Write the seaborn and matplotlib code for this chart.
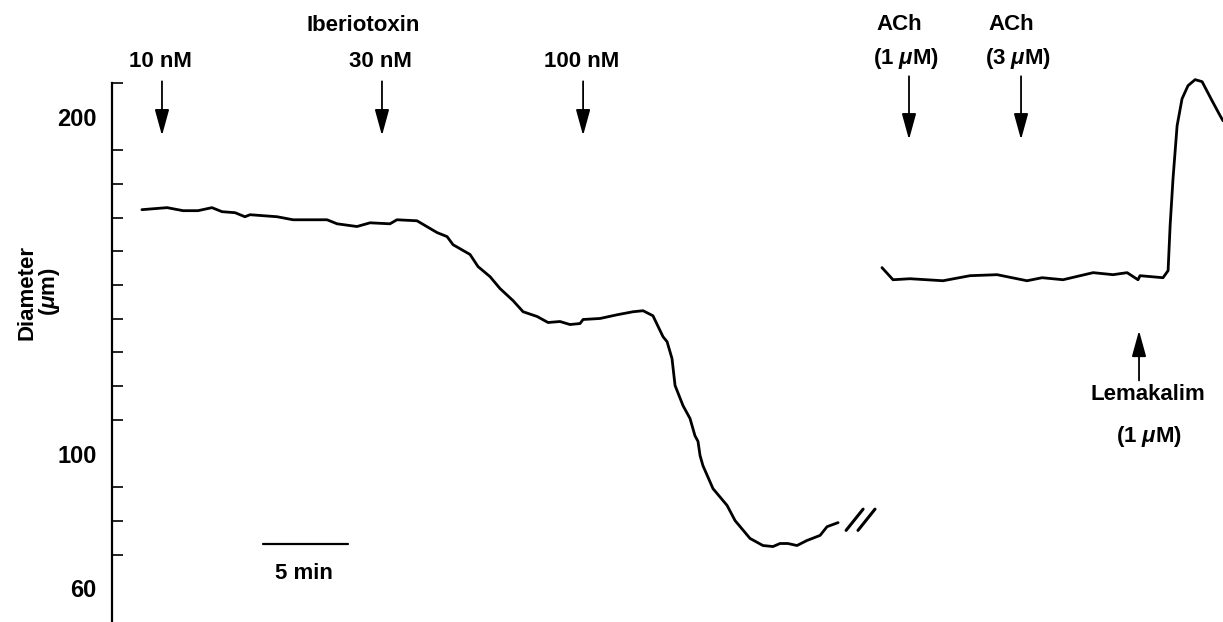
import matplotlib
matplotlib.use("Agg")
import matplotlib.pyplot as plt
import seaborn as sns

# Trace before the break (time in min, diameter in um)
time_a = [1.76, 3.24, 4.18, 5.06, 5.88, 6.47, 7.24, 7.82, 8.12, 9.71, 10.65, 12.65,
          13.24, 14.41, 15.18, 16.35, 16.76, 17.94, 19.12, 19.71, 20.06, 21.06, 21.53,
          22.24, 22.82, 23.59, 24.18, 25.00, 25.65, 26.35, 26.94, 27.53, 27.71, 28.71,
          29.71, 30.65, 31.24, 31.82, 32.41, 32.65, 32.94, 33.12, 33.59, 34.00, 34.29,
          34.47, 34.59, 34.76, 35.35, 36.18, 36.65, 37.53, 38.29, 38.88, 39.29, 39.76,
          40.29, 40.88, 41.65, 42.06, 42.71]
diam_a = [172.4, 173.0, 172.1, 172.1, 173.0, 171.8, 171.5, 170.3, 170.9, 170.3, 169.4, 169.4,
          168.2, 167.4, 168.5, 168.2, 169.4, 169.1, 165.6, 164.4, 162.0, 159.1, 155.5,
          152.5, 149.0, 145.4, 142.1, 140.7, 138.9, 139.2, 138.3, 138.6, 139.8, 140.1,
          141.2, 142.1, 142.4, 140.9, 134.7, 133.2, 128.2, 120.2, 114.2, 110.4, 105.3,
          103.6, 99.4, 96.4, 89.6, 84.6, 80.1, 74.8, 72.7, 72.4, 73.3, 73.3,
          72.7, 74.2, 75.7, 78.3, 79.5]

# Trace after the break
time_b = [45.29, 45.94, 46.94, 48.88, 50.47, 52.06, 53.82, 54.71, 55.94, 57.71, 58.88,
          59.71, 60.35, 60.47, 61.82, 62.12, 62.24, 62.41, 62.65, 62.94, 63.29, 63.71,
          64.12, 64.71, 65.18, 65.35]
diam_b = [155.2, 151.6, 151.9, 151.3, 152.8, 153.1, 151.3, 152.2, 151.6, 153.7, 153.1,
          153.7, 151.6, 152.8, 152.2, 154.3, 167.7, 181.6, 197.3, 205.3, 209.2, 211.0,
          210.4, 204.7, 200.3, 198.8]

# Drug additions
ibtx_times = [2.94, 15.88, 27.71]
ibtx_labels = ["10 nM", "30 nM", "100 nM"]
ach_times = [46.88, 53.47]
ach_labels = ["(1 $\\mu$M)", "(3 $\\mu$M)"]
lema_time = 60.41

sns.set_style("white")
plt.rcParams["font.family"] = ["Liberation Sans", "DejaVu Sans"]
plt.rcParams["font.weight"] = "bold"
plt.rcParams["text.color"] = "black"
plt.rcParams["ytick.color"] = "black"
plt.rcParams["mathtext.fontset"] = "custom"
plt.rcParams["mathtext.rm"] = "Liberation Sans:bold"
plt.rcParams["mathtext.it"] = "Liberation Sans:italic:bold"

fig = plt.figure(figsize=(12.23, 6.22), dpi=100)
ax = fig.add_axes([112 / 1223, 0, 1 - 112 / 1223, 1 - 83 / 622])

sns.lineplot(x=time_a, y=diam_a, color="black", lw=2.0, sort=False, estimator=None, ax=ax)
sns.lineplot(x=time_b, y=diam_b, color="black", lw=2.0, sort=False, estimator=None, ax=ax)
for line in ax.lines:
    line.set_clip_on(False)

ax.set_xlim(0, 65.35)
ax.set_ylim(50, 210)

# axis styling
for s in ["top", "right", "bottom"]:
    ax.spines[s].set_visible(False)
ax.spines["left"].set_color("black")
ax.spines["left"].set_linewidth(1.6)
ax.set_xticks([])
ax.set_yticks([60, 100, 200])
ax.set_yticks([70, 80, 90, 110, 120, 130, 140, 150, 160, 170, 180, 190, 210], minor=True)
ax.tick_params(axis="y", which="major", direction="in", length=10, width=1.3,
               labelsize=17, pad=11, color="black", labelcolor="black")
ax.tick_params(axis="y", which="minor", direction="in", length=8, width=1.2,
               left=True, color="black")
ax.set_xlabel("")
ax.set_ylabel("")

fs = 16
arrow = dict(arrowstyle="-|>,head_length=0.8,head_width=0.22", color="black",
             lw=1.3, mutation_scale=20, shrinkA=0, shrinkB=0)

# iberiotoxin arrows
ax.text(14.76, 227.0, "Iberiotoxin", ha="center", va="center", fontsize=fs)
for t, lab in zip(ibtx_times, ibtx_labels):
    ax.text(t - 0.1, 216.3, lab, ha="center", va="center", fontsize=fs)
    ax.annotate("", xy=(t, 194.4), xytext=(t, 210.5), arrowprops=arrow,
                annotation_clip=False)

# ACh arrows
for t, lab in zip(ach_times, ach_labels):
    ax.text(t - 0.6, 227.3, "ACh", ha="center", va="center", fontsize=fs)
    ax.text(t - 0.2, 217.2, lab, ha="center", va="center", fontsize=fs)
    ax.annotate("", xy=(t, 193.2), xytext=(t, 212.0), arrowprops=arrow,
                annotation_clip=False)

# lemakalim arrow
ax.annotate("", xy=(lema_time, 136.5), xytext=(lema_time, 121.7), arrowprops=arrow)
ax.text(60.94, 117.5, "Lemakalim", ha="center", va="center", fontsize=fs)
ax.text(61.0, 105.0, "(1 $\\mu$M)", ha="center", va="center", fontsize=fs)

# break marks
ax.plot([43.18, 44.18], [77.2, 83.5], color="black", lw=2.2)
ax.plot([43.88, 44.88], [77.2, 83.5], color="black", lw=2.2)

# 5 min scale bar
ax.plot([8.88, 8.88 + 5], [73.3, 73.3], color="black", lw=1.6)
ax.text(11.29, 64.4, "5 min", ha="center", va="center", fontsize=fs)

# y label
fig.text(27 / 1223, 1 - 292 / 622, "Diameter", rotation=90, ha="center", va="center", fontsize=fs)
fig.text(49 / 1223, 1 - 292 / 622, "($\\mu$m)", rotation=90, ha="center", va="center", fontsize=fs)

fig.savefig("out.png", dpi=100, facecolor="white")
